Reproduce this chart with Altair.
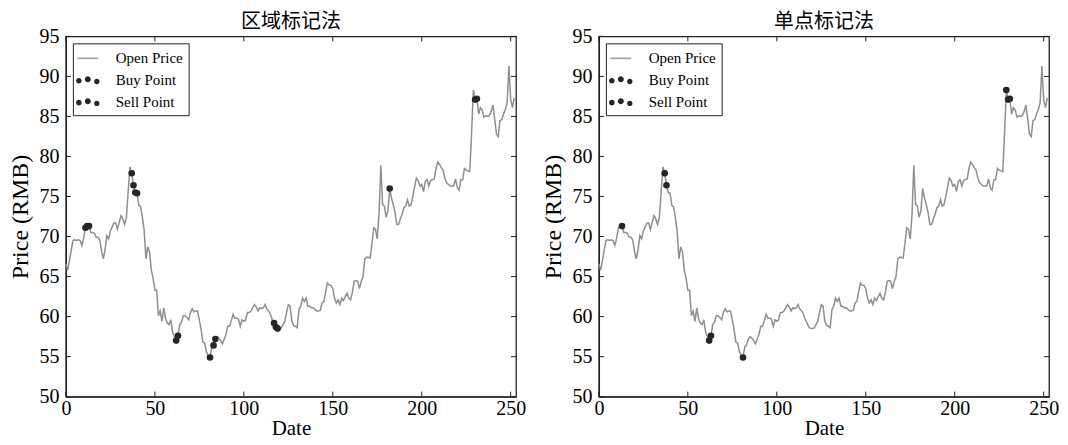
import altair as alt
import pandas as pd

# ---------------- data ----------------
open_price = [
    66.6, 65.8, 67.0, 68.3, 69.5, 69.6, 69.5, 69.6, 69.5, 68.9,   # 0-9
    69.8, 71.1, 71.3, 71.3, 70.5, 70.5, 70.4, 69.9, 69.9, 69.6,   # 10-19
    68.2, 67.2, 68.3, 70.1, 69.7, 70.7, 71.2, 71.7, 71.7, 70.9,   # 20-29
    71.8, 72.6, 72.2, 71.5, 72.4, 75.6, 78.7, 77.9, 76.4, 75.5,   # 30-39
    75.4, 73.9, 73.7, 72.4, 70.7, 67.2, 68.7, 68.1, 65.8, 64.8,   # 40-49
    63.3, 63.3, 60.1, 60.7, 59.4, 61.1, 59.8, 59.2, 59.0, 59.6,   # 50-59
    58.0, 57.5, 57.0, 57.6, 59.0, 59.3, 60.1, 60.1, 59.9, 59.6,   # 60-69
    60.5, 61.0, 60.6, 60.7, 60.7, 59.6, 58.4, 56.8, 56.7, 55.6,   # 70-79
    55.1, 54.9, 56.2, 56.4, 57.2, 57.5, 57.3, 57.0, 56.6, 57.2,   # 80-89
    57.8, 58.8, 58.8, 59.5, 60.3, 59.8, 59.8, 59.7, 58.8, 59.6,   # 90-99
    59.4, 59.6, 60.5, 60.5, 60.7, 61.1, 61.5, 61.2, 60.7, 61.1,   # 100-109
    61.0, 61.1, 61.5, 60.9, 60.7, 60.3, 59.6, 59.2, 58.7, 58.5,   # 110-119
    58.5, 58.6, 59.0, 59.4, 60.5, 61.5, 61.3, 59.4, 58.9, 58.8,   # 120-129
    58.6, 60.9, 61.3, 62.3, 61.9, 62.3, 61.3, 61.3, 61.1, 61.1,   # 130-139
    60.9, 60.7, 60.7, 60.8, 61.7, 61.9, 63.1, 64.2, 63.9, 63.9,   # 140-149
    63.5, 62.3, 61.7, 62.1, 61.5, 62.3, 62.0, 62.5, 62.9, 62.3,   # 150-159
    62.1, 63.0, 64.4, 64.5, 64.4, 63.5, 64.4, 65.0, 67.2, 67.4,   # 160-169
    67.4, 67.3, 69.1, 71.1, 70.9, 69.7, 72.8, 78.9, 74.0, 73.8,   # 170-179
    72.4, 73.2, 76.0, 74.8, 74.0, 73.0, 71.5, 71.5, 72.2, 72.8,   # 180-189
    73.6, 73.8, 74.6, 73.8, 74.0, 75.0, 76.2, 77.3, 77.0, 76.3,   # 190-199
    76.5, 75.6, 76.9, 77.1, 76.3, 77.0, 77.1, 77.2, 78.5, 79.3,   # 200-209
    79.0, 78.6, 78.3, 77.3, 76.7, 76.5, 76.3, 76.3, 76.3, 77.2,   # 210-219
    76.1, 75.8, 77.1, 77.1, 78.5, 78.3, 78.2, 78.1, 82.8, 88.3,   # 220-229
    87.1, 87.2, 85.3, 86.1, 85.8, 84.9, 85.1, 85.0, 85.1, 85.6,   # 230-239
    86.4, 84.7, 82.8, 82.5, 84.5, 84.6, 85.3, 85.9, 86.7, 91.3,   # 240-249
    87.1, 86.1, 87.3,                                             # 250-252
]
dates = list(range(len(open_price)))

# marker positions (date indices) for each panel
region_buy = [11, 12, 13, 62, 63, 81, 83, 84, 117, 118, 119]
region_sell = [37, 38, 39, 40, 182, 230, 231]
single_buy = [13, 62, 63, 81]
single_sell = [37, 38, 229, 230, 231]

panel_titles = ["区域标记法", "单点标记法"]
legend_names = ["Open Price", "Buy Point", "Sell Point"]
x_ticks = [0, 50, 100, 150, 200, 250]
y_ticks = [50, 55, 60, 65, 70, 75, 80, 85, 90, 95]
x_domain = [0, 253]
y_domain = [50, 95]

# ---------------- style ----------------
W, H = 451, 361
SERIF = "Liberation Serif"
CJK = "Noto Sans CJK SC"
LINE_COLOR = "#8f8f8f"
DOT_COLOR = "#262626"
FRAME = "#222222"
TICK_LEN = 5


def circle(cx, cy, r):
    return f"M{cx - r},{cy}a{r},{r} 0 1,0 {2 * r},0a{r},{r} 0 1,0 {-2 * r},0Z"


DOTS_PATH = " ".join([circle(-0.9, 0.04, 0.28), circle(0.0, -0.1, 0.3), circle(0.9, 0.12, 0.27)])
LINE_PATH = "M-1.05,-0.09H1.05V0.09H-1.05Z"

price_df = pd.DataFrame({"idx": dates, "price": open_price})
xt_df = pd.DataFrame({"idx": x_ticks})
yt_df = pd.DataFrame({"price": y_ticks})
leg_df = pd.DataFrame({"idx": [0, 0, 0], "price": [60, 60, 60], "series": legend_names})

X_AXIS = alt.Axis(
    values=x_ticks, title="Date", ticks=False, domain=True, domainColor=FRAME,
    domainWidth=1.3, grid=False,
    labelFont=SERIF, labelFontSize=20, labelColor="black", labelPadding=2,
    labelFlush=False, labelOverlap=False,
    titleFont=SERIF, titleFontSize=21, titleFontWeight="normal",
    titleColor="black", titlePadding=-1,
)
Y_AXIS = alt.Axis(
    values=y_ticks, title="Price (RMB)", ticks=False, domain=True, domainColor=FRAME,
    domainWidth=1.3, grid=False,
    labelFont=SERIF, labelFontSize=20, labelColor="black", labelPadding=7,
    labelOverlap=False,
    titleFont=SERIF, titleFontSize=24, titleFontWeight="normal",
    titleColor="black", titlePadding=6,
)


def x_enc():
    return alt.X("idx:Q", scale=alt.Scale(domain=x_domain, nice=False, zero=False), axis=X_AXIS)


def y_enc():
    return alt.Y("price:Q", scale=alt.Scale(domain=y_domain, nice=False, zero=False), axis=Y_AXIS)


def panel(title, buy_idx, sell_idx):
    line = alt.Chart(price_df).mark_line(color=LINE_COLOR, strokeWidth=1.5).encode(
        x=x_enc(), y=y_enc()
    )
    buy_df = price_df[price_df["idx"].isin(buy_idx)]
    sell_df = price_df[price_df["idx"].isin(sell_idx)]
    buy = alt.Chart(buy_df).mark_circle(color=DOT_COLOR, size=44, opacity=1).encode(
        x=x_enc(), y=y_enc()
    )
    sell = alt.Chart(sell_df).mark_circle(color=DOT_COLOR, size=44, opacity=1).encode(
        x=x_enc(), y=y_enc()
    )
    # inward ticks on all four sides
    t_bottom = alt.Chart(xt_df).mark_rule(color=FRAME, strokeWidth=1).encode(
        x=x_enc(), y=alt.value(H), y2=alt.value(H - TICK_LEN))
    t_top = alt.Chart(xt_df).mark_rule(color=FRAME, strokeWidth=1).encode(
        x=x_enc(), y=alt.value(0), y2=alt.value(TICK_LEN))
    t_left = alt.Chart(yt_df).mark_rule(color=FRAME, strokeWidth=1).encode(
        y=y_enc(), x=alt.value(0), x2=alt.value(TICK_LEN))
    t_right = alt.Chart(yt_df).mark_rule(color=FRAME, strokeWidth=1).encode(
        y=y_enc(), x=alt.value(W - TICK_LEN), x2=alt.value(W))

    legend = alt.Legend(
        title=None, orient="top-left", offset=7, padding=5,
        strokeColor=FRAME, fillColor="white", cornerRadius=0,
        labelFont=SERIF, labelFontSize=15, labelColor="black", labelOffset=18,
        symbolSize=400, symbolStrokeWidth=0, rowPadding=4,
    )
    leg_layer = alt.Chart(leg_df).transform_filter("datum.price < 0").mark_point(
        filled=True, opacity=1
    ).encode(
        x=x_enc(), y=y_enc(),
        color=alt.Color("series:N", scale=alt.Scale(domain=legend_names,
                        range=["#a8a8a8", DOT_COLOR, DOT_COLOR]), legend=legend),
        shape=alt.Shape("series:N", scale=alt.Scale(domain=legend_names,
                        range=[LINE_PATH, DOTS_PATH, DOTS_PATH]), legend=legend),
    )
    return alt.layer(line, buy, sell, t_bottom, t_top, t_left, t_right, leg_layer).properties(
        width=W, height=H,
        title=alt.Title(title, font=CJK, fontSize=20, fontWeight="normal",
                        color="black", anchor="middle", offset=-6),
    )


chart = alt.hconcat(
    panel(panel_titles[0], region_buy, region_sell),
    panel(panel_titles[1], single_buy, single_sell),
    spacing=14,
).resolve_scale(
    color="independent", shape="independent"
).resolve_legend(
    color="independent", shape="independent"
).properties(
    padding={"left": 0, "top": 3, "right": 0, "bottom": 0},
    background="white",
).configure_view(
    stroke=FRAME, strokeWidth=1.3
)

chart.save("out.html", embed_options={"renderer": "svg", "actions": False})
